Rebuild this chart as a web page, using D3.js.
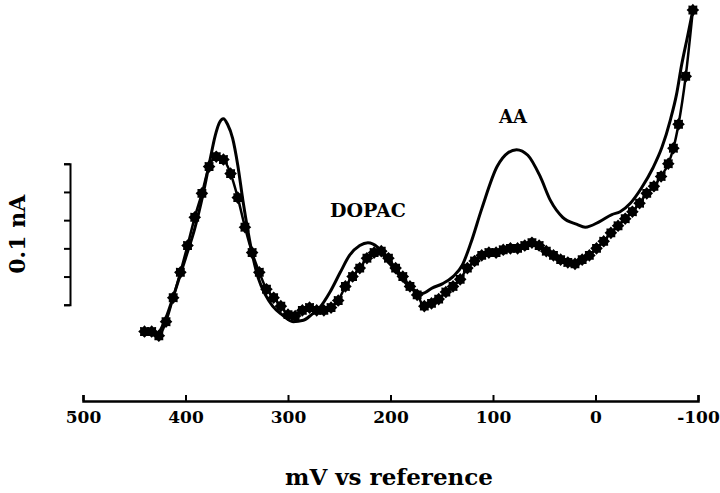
<!DOCTYPE html>
<html>
<head>
<meta charset="utf-8">
<script src="https://cdn.jsdelivr.net/npm/d3@7"></script>
<style>
  html, body { margin: 0; padding: 0; background: #fff; }
  text { font-family: 'DejaVu Serif', serif; font-weight: bold; fill: #000; }
</style>
</head>
<body>
<script>
// potential (mV) and current (pA)
const solidPotential = [428, 420, 410, 400, 391, 383, 376, 371, 367, 363, 359, 354, 349, 344, 339, 334, 329, 322, 315, 306,
  295, 285, 277, 269, 259, 249, 240, 230, 222, 213, 205, 196, 186, 176, 169, 159, 149, 139, 130, 122,
  111, 96, 85, 77, 66, 54, 44, 32, 18, 10, -4, -16, -24, -34, -45, -56, -65, -73, -79, -84, -90, -95]
const solidCurrent = [2, 14, 35, 58, 79, 103, 128, 145, 154, 157, 153, 143, 124, 99, 77, 58, 44, 32, 24, 18,
  13, 14, 18, 23, 34, 48, 60, 67, 69, 66, 58, 50, 41, 35, 33, 37, 40, 45, 53, 68,
  93, 123, 133, 135, 131, 116, 99, 87, 82, 80, 84, 89, 91, 97, 108, 122, 137, 156, 174, 195, 216, 234]

const starPotential = [440, 433, 426, 419, 412, 405, 398, 391, 384, 377, 370, 363, 356, 349, 342, 335, 328, 321, 314, 307,
  300, 293, 286, 279, 272, 265, 258, 251, 244, 237, 230, 223, 216, 209, 202, 195, 188, 181, 174, 167,
  160, 153, 146, 139, 132, 125, 118, 111, 104, 97, 90, 83, 76, 69, 62, 55, 48, 41, 34, 27,
  20, 13, 6, -1, -8, -15, -22, -29, -36, -43, -50, -57, -64, -71, -76, -81, -88, -95]
const starCurrent = [6, 6, 3, 13, 30, 48, 67, 87, 104, 123, 130, 128, 118, 101, 80, 62, 48, 36, 30, 24,
  18, 17, 21, 23, 21, 21, 23, 28, 38, 45, 51, 58, 62, 63, 58, 51, 45, 38, 32, 24,
  26, 29, 34, 38, 43, 51, 56, 60, 62, 62, 64, 65, 65, 67, 69, 67, 63, 60, 57, 55,
  54, 57, 60, 65, 70, 76, 81, 86, 91, 97, 104, 109, 116, 125, 136, 153, 187, 234]

const xTicks = [500, 400, 300, 200, 100, 0, -100]
const barTicks = [0, 0.02, 0.04, 0.06, 0.08, 0.1]

const width = 720, height = 493

const svg = d3.select('body').append('svg')
  .attr('width', width)
  .attr('height', height)

const x = d3.scaleLinear().domain([500, -100]).range([83, 698])
const y = d3.scaleLinear().domain([0, 100]).range([340, 199])

// x axis, ticks pointing up
const xAxis = svg.append('g')
  .attr('transform', 'translate(0, 401)')
  .call(d3.axisBottom(x).tickValues(xTicks).tickSizeInner(-6).tickSizeOuter(-6)
    .tickPadding(10).tickFormat(d => String(d)))
xAxis.select('.domain').attr('stroke-width', 2.5)
xAxis.selectAll('.tick line').attr('stroke-width', 2)
xAxis.selectAll('.tick text')
  .style('font-size', '17px')
  .attr('dy', '0.71em')

svg.append('text')
  .attr('x', 389)
  .attr('y', 485)
  .attr('text-anchor', 'middle')
  .style('font-size', '23px')
  .text('mV vs reference')

// 0.1 nA scale bar
const bar = d3.scaleLinear().domain([0, 0.1]).range([y(25), y(125)])
const barAxis = svg.append('g')
  .attr('transform', 'translate(70, 0)')
  .call(d3.axisLeft(bar).tickValues(barTicks).tickSizeInner(6).tickSizeOuter(6).tickFormat(''))
barAxis.select('.domain').attr('stroke-width', 2)
barAxis.selectAll('.tick line').attr('stroke-width', 2)

svg.append('text')
  .attr('transform', `translate(25, ${(y(25) + y(125)) / 2}) rotate(-90)`)
  .attr('text-anchor', 'middle')
  .style('font-size', '22px')
  .text('0.1 nA')

const solid = d3.zip(solidPotential, solidCurrent)
const starred = d3.zip(starPotential, starCurrent)

const line = d3.line()
  .x(d => x(d[0]))
  .y(d => y(d[1]))
  .curve(d3.curveMonotoneX)

svg.append('path')
  .datum(starred)
  .attr('d', line)
  .attr('fill', 'none')
  .attr('stroke', '#000')
  .attr('stroke-width', 2.5)

svg.append('path')
  .datum(solid)
  .attr('d', line)
  .attr('fill', 'none')
  .attr('stroke', '#000')
  .attr('stroke-width', 3)

// cog shaped marker
const cog = {
  draw(context, size) {
    const r = Math.sqrt(size / Math.PI)
    const n = 16
    for (let i = 0; i < n; i++) {
      const a = i * 2 * Math.PI / n
      const rr = i % 2 ? r * 0.75 : r
      if (i === 0) context.moveTo(rr * Math.cos(a), rr * Math.sin(a))
      else context.lineTo(rr * Math.cos(a), rr * Math.sin(a))
    }
    context.closePath()
  }
}

svg.append('g')
  .selectAll('path')
  .data(starred)
  .join('path')
  .attr('transform', d => `translate(${x(d[0])}, ${y(d[1])})`)
  .attr('d', d3.symbol(cog, 125))
  .attr('fill', '#000')

svg.append('text')
  .attr('x', 368)
  .attr('y', 217)
  .attr('text-anchor', 'middle')
  .style('font-size', '19px')
  .text('DOPAC')

svg.append('text')
  .attr('x', 513)
  .attr('y', 123)
  .attr('text-anchor', 'middle')
  .style('font-size', '18px')
  .text('AA')
</script>
</body>
</html>
